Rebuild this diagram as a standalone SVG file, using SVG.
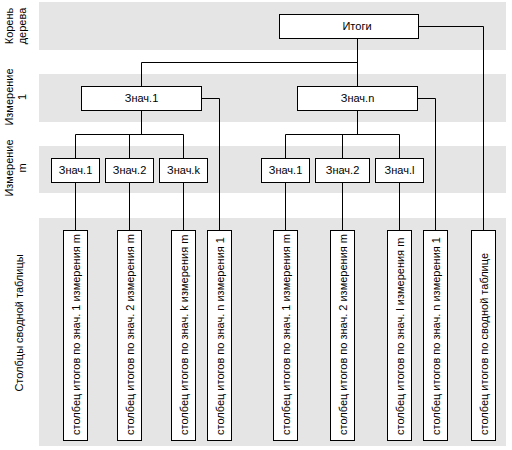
<svg xmlns="http://www.w3.org/2000/svg" width="512" height="450" viewBox="0 0 512 450">
<style>
.band{fill:#e5e5e5}
.box{fill:#fff;stroke:#000;stroke-width:1}
.ln{fill:none;stroke:#000;stroke-width:1}
text{font-family:"Liberation Sans",Arial,sans-serif;font-size:11px;fill:#000}
.c{text-anchor:middle}
</style>
<rect width="512" height="450" fill="#fff"/>
<g id="bands">
<rect class="band" x="39" y="2" width="467" height="48"/>
<rect class="band" x="39" y="74" width="467" height="48"/>
<rect class="band" x="39" y="146" width="467" height="47"/>
<rect class="band" x="39" y="218" width="467" height="228"/>
</g>
<g id="labels">
<text class="c" transform="translate(12.5,26) rotate(-90)">Корень</text>
<text class="c" transform="translate(25.5,26) rotate(-90)">дерева</text>
<text class="c" transform="translate(12.5,97) rotate(-90)">Измерение</text>
<text class="c" transform="translate(25.5,97) rotate(-90)">1</text>
<text class="c" transform="translate(12.5,168) rotate(-90)">Измерение</text>
<text class="c" transform="translate(25.5,168) rotate(-90)">m</text>
<text class="c" transform="translate(23,323) rotate(-90)">Столбцы сводной таблицы</text>
</g>
<g id="connectors">
<path class="ln" d="M357.5,38.5V86.5M141.5,62.5H357.5M141.5,62.5V86.5"/>
<path class="ln" d="M418.5,26.5H483.5V230.5"/>
<path class="ln" d="M201.5,98.5H219.5V230.5"/>
<path class="ln" d="M417.5,98.5H435.5V230.5"/>
<path class="ln" d="M141.5,110.5V134.5M75.5,134.5H183.5M75.5,134.5V158.5M129.5,134.5V158.5M183.5,134.5V158.5"/>
<path class="ln" d="M357.5,110.5V134.5M285.5,134.5H399.5M285.5,134.5V158.5M342.5,134.5V158.5M399.5,134.5V158.5"/>
<path class="ln" d="M75.5,182.5V230.5M129.5,182.5V230.5M183.5,182.5V230.5M285.5,182.5V230.5M342.5,182.5V230.5M399.5,182.5V230.5"/>
</g>
<g id="root">
<rect class="box" x="279.5" y="14.5" width="139" height="24"/>
<text class="c" x="357" y="30">Итоги</text>
</g>
<g id="dim1-1">
<rect class="box" x="81.5" y="86.5" width="120" height="24"/>
<text class="c" x="141.5" y="102">Знач.1</text>
</g>
<g id="dim1-n">
<rect class="box" x="297.5" y="86.5" width="120" height="24"/>
<text class="c" x="357.5" y="102">Знач.n</text>
</g>
<g id="dimm-1a">
<rect class="box" x="51.5" y="158.5" width="48" height="24"/>
<text class="c" x="75.5" y="174">Знач.1</text>
</g>
<g id="dimm-2a">
<rect class="box" x="105.5" y="158.5" width="48" height="24"/>
<text class="c" x="129.5" y="174">Знач.2</text>
</g>
<g id="dimm-ka">
<rect class="box" x="159.5" y="158.5" width="48" height="24"/>
<text class="c" x="183.5" y="174">Знач.k</text>
</g>
<g id="dimm-1b">
<rect class="box" x="261.5" y="158.5" width="48" height="24"/>
<text class="c" x="285.5" y="174">Знач.1</text>
</g>
<g id="dimm-2b">
<rect class="box" x="315.5" y="158.5" width="54" height="24"/>
<text class="c" x="342.5" y="174">Знач.2</text>
</g>
<g id="dimm-lb">
<rect class="box" x="375.5" y="158.5" width="48" height="24"/>
<text class="c" x="399.5" y="174">Знач.l</text>
</g>
<g id="col1">
<rect class="box" x="63.5" y="230.5" width="24" height="210"/>
<text transform="translate(79.5,435) rotate(-90)">столбец итогов по знач. 1 измерения m</text>
</g>
<g id="col2">
<rect class="box" x="117.5" y="230.5" width="24" height="210"/>
<text transform="translate(133.5,435) rotate(-90)">столбец итогов по знач. 2 измерения m</text>
</g>
<g id="col3">
<rect class="box" x="171.5" y="230.5" width="24" height="210"/>
<text transform="translate(187.5,435) rotate(-90)">столбец итогов по знач. k измерения m</text>
</g>
<g id="col4">
<rect class="box" x="207.5" y="230.5" width="24" height="210"/>
<text transform="translate(223.5,435) rotate(-90)">столбец итогов по знач. n измерения 1</text>
</g>
<g id="col5">
<rect class="box" x="273.5" y="230.5" width="24" height="210"/>
<text transform="translate(289.5,435) rotate(-90)">столбец итогов по знач. 1 измерения m</text>
</g>
<g id="col6">
<rect class="box" x="330.5" y="230.5" width="24" height="210"/>
<text transform="translate(346.5,435) rotate(-90)">столбец итогов по знач. 2 измерения m</text>
</g>
<g id="col7">
<rect class="box" x="387.5" y="230.5" width="24" height="210"/>
<text transform="translate(403.5,435) rotate(-90)">столбец итогов по знач. l измерения m</text>
</g>
<g id="col8">
<rect class="box" x="423.5" y="230.5" width="24" height="210"/>
<text transform="translate(439.5,435) rotate(-90)">столбец итогов по знач. n измерения 1</text>
</g>
<g id="col9">
<rect class="box" x="471.5" y="230.5" width="24" height="210"/>
<text transform="translate(487.5,435) rotate(-90)">столбец итогов по сводной таблице</text>
</g>
</svg>
